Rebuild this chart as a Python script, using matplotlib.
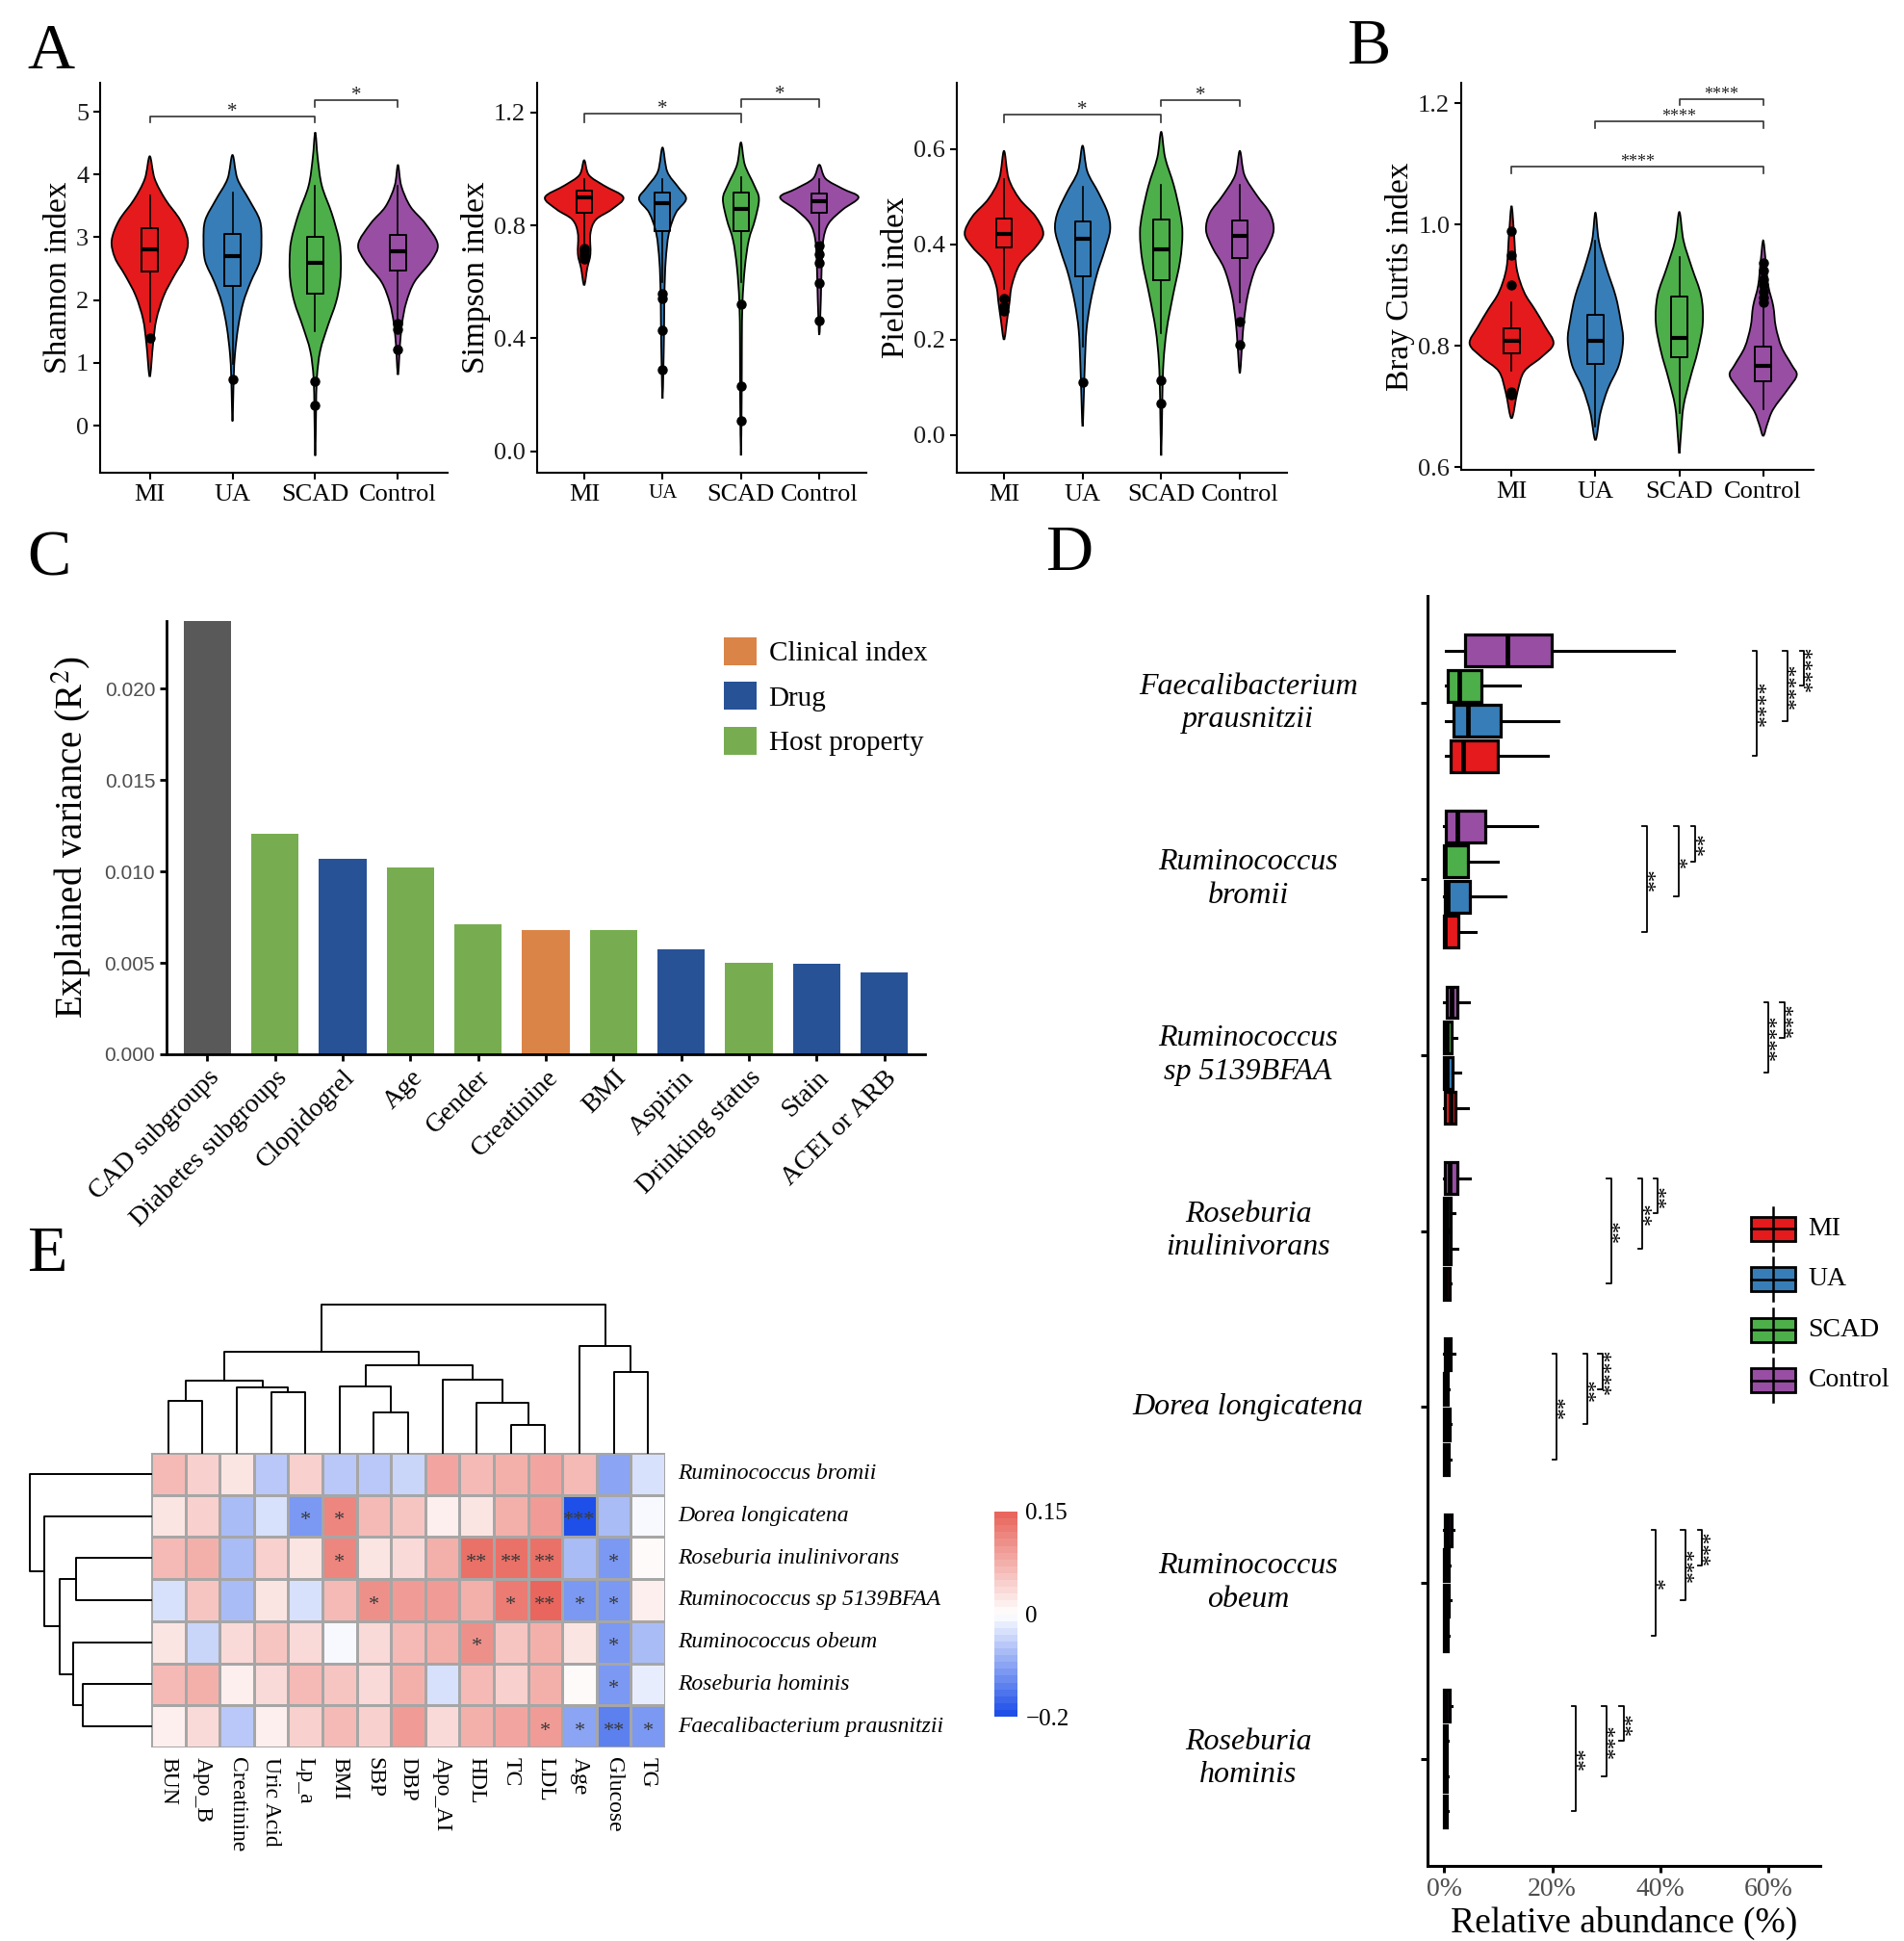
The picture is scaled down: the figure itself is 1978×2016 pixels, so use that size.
import matplotlib
matplotlib.use("Agg")
import matplotlib.pyplot as plt
import numpy as np
from matplotlib.path import Path
from matplotlib.patches import PathPatch, Rectangle, Patch
from matplotlib.colors import LinearSegmentedColormap, TwoSlopeNorm

W, H = 1978, 2016
plt.rcParams["font.family"] = ["Liberation Serif", "DejaVu Serif"]
plt.rcParams["mathtext.fontset"] = "stix"

GROUPS = ["MI", "UA", "SCAD", "Control"]
GROUP_COLORS = ["#E41A1C", "#377EB8", "#4DAF4A", "#984EA3"]

# ---- panel A / B : violin outlines (y, half-width in category units) ----
shannon_profiles = {
    "MI": ([0.78, 1.30, 1.69, 2.07, 2.40, 2.67, 2.95, 3.27, 3.60, 3.93, 4.29],
           [0, 0.04, 0.08, 0.17, 0.30, 0.42, 0.46, 0.37, 0.19, 0.06, 0]),
    "UA": ([0.07, 0.76, 1.14, 1.58, 1.96, 2.29, 2.62, 2.95, 3.27, 3.60, 3.93, 4.31],
           [0, 0.015, 0.03, 0.07, 0.13, 0.22, 0.33, 0.35, 0.33, 0.20, 0.06, 0]),
    "SCAD": ([-0.48, 0.21, 0.76, 1.19, 1.58, 1.96, 2.29, 2.62, 2.95, 3.38, 3.82, 4.26, 4.67],
             [0, 0.01, 0.02, 0.06, 0.15, 0.25, 0.30, 0.31, 0.29, 0.20, 0.08, 0.03, 0]),
    "Control": ([0.81, 1.30, 1.63, 1.96, 2.29, 2.62, 2.89, 3.22, 3.49, 3.82, 4.15],
                [0, 0.025, 0.05, 0.10, 0.20, 0.40, 0.48, 0.33, 0.15, 0.04, 0]),
}
shannon_boxes = {
    "MI": (1.66, 2.46, 2.81, 3.14, 3.67, [1.39]),
    "UA": (0.98, 2.22, 2.70, 3.06, 3.71, [0.74]),
    "SCAD": (1.50, 2.10, 2.60, 3.00, 3.82, [0.70, 0.33]),
    "Control": (1.69, 2.47, 2.77, 3.03, 3.82, [1.62, 1.53, 1.22]),
}
simpson_profiles = {
    "MI": ([0.588, 0.649, 0.698, 0.771, 0.82, 0.856, 0.899, 0.941, 0.978, 1.03],
           [0, 0.04, 0.08, 0.08, 0.15, 0.35, 0.50, 0.25, 0.06, 0]),
    "UA": ([0.187, 0.309, 0.442, 0.564, 0.673, 0.771, 0.844, 0.893, 0.935, 0.99, 1.075],
           [0, 0.012, 0.02, 0.025, 0.04, 0.08, 0.17, 0.30, 0.20, 0.06, 0]),
    "SCAD": ([-0.014, 0.2, 0.382, 0.528, 0.65, 0.747, 0.82, 0.893, 0.941, 1.014, 1.093],
             [0, 0.01, 0.012, 0.02, 0.05, 0.10, 0.18, 0.23, 0.17, 0.05, 0]),
    "Control": ([0.412, 0.54, 0.65, 0.747, 0.807, 0.856, 0.899, 0.929, 0.965, 1.014],
                [0, 0.02, 0.03, 0.05, 0.12, 0.30, 0.50, 0.30, 0.08, 0]),
}
simpson_boxes = {
    "MI": (0.73, 0.844, 0.899, 0.923, 0.965, [0.72, 0.71, 0.70, 0.69, 0.68]),
    "UA": (0.60, 0.779, 0.880, 0.917, 0.965, [0.56, 0.54, 0.43, 0.29]),
    "SCAD": (0.60, 0.780, 0.858, 0.917, 0.972, [0.52, 0.23, 0.11]),
    "Control": (0.75, 0.844, 0.886, 0.911, 0.963, [0.728, 0.698, 0.668, 0.597, 0.463]),
}
pielou_profiles = {
    "MI": ([0.2, 0.242, 0.278, 0.314, 0.358, 0.394, 0.423, 0.459, 0.495, 0.538, 0.596],
           [0, 0.04, 0.07, 0.10, 0.20, 0.40, 0.50, 0.40, 0.20, 0.06, 0]),
    "UA": ([0.018, 0.105, 0.155, 0.221, 0.278, 0.336, 0.387, 0.43, 0.466, 0.509, 0.553, 0.607],
           [0, 0.02, 0.03, 0.05, 0.10, 0.18, 0.28, 0.35, 0.32, 0.20, 0.06, 0]),
    "SCAD": ([-0.043, 0.083, 0.155, 0.221, 0.293, 0.365, 0.423, 0.466, 0.524, 0.582, 0.636],
             [0, 0.015, 0.03, 0.07, 0.15, 0.24, 0.27, 0.24, 0.16, 0.05, 0]),
    "Control": ([0.13, 0.192, 0.235, 0.293, 0.35, 0.394, 0.43, 0.466, 0.502, 0.545, 0.596],
                [0, 0.03, 0.05, 0.10, 0.20, 0.35, 0.43, 0.38, 0.22, 0.06, 0]),
}
pielou_boxes = {
    "MI": (0.307, 0.394, 0.421, 0.455, 0.538, [0.286, 0.27, 0.26]),
    "UA": (0.185, 0.334, 0.412, 0.448, 0.520, [0.11]),
    "SCAD": (0.213, 0.325, 0.389, 0.452, 0.524, [0.115, 0.067]),
    "Control": (0.278, 0.371, 0.417, 0.450, 0.524, [0.239, 0.19]),
}
bray_profiles = {
    "MI": ([0.681, 0.724, 0.758, 0.781, 0.804, 0.832, 0.86, 0.889, 0.929, 0.985, 1.031],
           [0, 0.07, 0.15, 0.35, 0.50, 0.40, 0.28, 0.15, 0.06, 0.03, 0]),
    "UA": ([0.645, 0.69, 0.73, 0.769, 0.809, 0.843, 0.883, 0.929, 0.974, 1.02],
           [0, 0.06, 0.15, 0.28, 0.33, 0.30, 0.24, 0.13, 0.04, 0]),
    "SCAD": ([0.623, 0.656, 0.701, 0.747, 0.792, 0.838, 0.883, 0.929, 0.974, 1.021],
             [0, 0.02, 0.05, 0.13, 0.22, 0.28, 0.26, 0.15, 0.05, 0]),
    "Control": ([0.652, 0.672, 0.696, 0.73, 0.752, 0.769, 0.798, 0.832, 0.866, 0.9, 0.94, 0.974],
                [0, 0.05, 0.12, 0.30, 0.40, 0.34, 0.22, 0.15, 0.12, 0.06, 0.03, 0]),
}
bray_boxes = {
    "MI": (0.759, 0.788, 0.809, 0.829, 0.872, [0.99, 0.95, 0.90, 0.725, 0.72]),
    "UA": (0.667, 0.771, 0.809, 0.851, 0.974, []),
    "SCAD": (0.690, 0.781, 0.814, 0.882, 0.946, []),
    "Control": (0.696, 0.742, 0.767, 0.799, 0.869, [0.937, 0.925, 0.91, 0.90, 0.89, 0.88, 0.872]),
}
# significance: (group a, group b, bar y, tip y, label)
shannon_sig = [(1, 3, 4.93, 4.83, "*"), (3, 4, 5.19, 5.08, "*")]
simpson_sig = [(1, 3, 1.195, 1.166, "*"), (3, 4, 1.245, 1.22, "*")]
pielou_sig = [(1, 3, 0.673, 0.657, "*"), (3, 4, 0.703, 0.69, "*")]
bray_sig = [(3, 4, 1.207, 1.198, "****"), (2, 4, 1.17, 1.159, "****"), (1, 4, 1.096, 1.085, "****")]

# ---- panel C ----
c_factors = ["CAD subgroups", "Diabetes subgroups", "Clopidogrel", "Age", "Gender",
             "Creatinine", "BMI", "Aspirin", "Drinking status", "Stain", "ACEI or ARB"]
c_r2 = [0.0245, 0.01207, 0.01067, 0.01021, 0.00711, 0.00682, 0.0068, 0.00576, 0.00501, 0.00493, 0.00447]
c_types = ["CAD", "Host property", "Drug", "Host property", "Host property", "Clinical index",
           "Host property", "Drug", "Host property", "Drug", "Drug"]
c_colors = {"CAD": "#595959", "Clinical index": "#DA8447", "Drug": "#275296", "Host property": "#77AD50"}

# ---- panel D : (whislo, q1, median, q3, whishi) in % ----
d_species = ["Faecalibacterium\nprausnitzii", "Ruminococcus\nbromii", "Ruminococcus\nsp 5139BFAA",
             "Roseburia\ninulinivorans", "Dorea longicatena", "Ruminococcus\nobeum", "Roseburia\nhominis"]
d_mi = [(0.2, 1.12, 3.47, 9.9, 19.1), (0, 0, 0.1, 2.55, 5.8), (0, 0.1, 1.2, 2.15, 4.3),
        (0, 0, 0.3, 1.0, 1.2), (0, 0, 0.3, 0.8, 1.2), (0, 0, 0.2, 0.7, 0.9), (0, 0, 0.1, 0.5, 0.6)]
d_ua = [(0.2, 1.63, 4.39, 10.5, 21.15), (0, 0.05, 0.7, 4.7, 11.4), (0, 0, 0.5, 1.5, 3.0),
        (0, 0, 0.4, 1.2, 2.45), (0, 0, 0.4, 1.0, 1.2), (0, 0, 0.3, 0.9, 1.1), (0, 0, 0.1, 0.5, 0.6)]
d_scad = [(0.2, 0.72, 2.76, 6.84, 14.0), (0, 0, 0.1, 4.4, 9.9), (0, 0, 0.4, 1.3, 2.25),
          (0, 0, 0.4, 1.23, 1.9), (0, 0, 0.2, 0.7, 0.9), (0, 0, 0.2, 0.8, 1.0), (0, 0, 0.1, 0.5, 0.6)]
d_control = [(0.2, 3.78, 11.65, 19.8, 42.6), (0, 0.2, 2.45, 7.56, 17.3), (0, 0.4, 1.4, 2.45, 4.6),
             (0, 0.1, 1.0, 2.35, 4.8), (0, 0.1, 0.6, 1.2, 1.9), (0, 0.1, 0.6, 1.3, 1.7), (0, 0, 0.3, 1.0, 1.4)]
# brackets vs Control: (group, x %, label)
d_sig = [
    [("MI", 57.9, "****"), ("UA", 63.5, "****"), ("SCAD", 66.6, "****")],
    [("MI", 37.5, "**"), ("UA", 43.4, "*"), ("SCAD", 46.5, "**")],
    [("UA", 60.0, "****"), ("SCAD", 63.0, "***")],
    [("MI", 30.9, "**"), ("UA", 36.7, "**"), ("SCAD", 39.5, "**")],
    [("MI", 20.8, "**"), ("UA", 26.5, "**"), ("SCAD", 29.3, "****")],
    [("MI", 39.2, "*"), ("UA", 44.6, "***"), ("SCAD", 47.7, "***")],
    [("MI", 24.4, "**"), ("UA", 30.0, "***"), ("SCAD", 33.2, "**")],
]

# ---- panel E ----
heat_cols = ["BUN", "Apo_B", "Creatinine", "Uric Acid", "Lp_a", "BMI", "SBP", "DBP",
             "Apo_AI", "HDL", "TC", "LDL", "Age", "Glucose", "TG"]
heat_rows = ["Ruminococcus bromii", "Dorea longicatena", "Roseburia inulinivorans",
             "Ruminococcus sp 5139BFAA", "Ruminococcus obeum", "Roseburia hominis",
             "Faecalibacterium prausnitzii"]
heat_r = [
    [0.06, 0.04, 0.02, -0.06, 0.04, -0.06, -0.06, -0.05, 0.08, 0.06, 0.07, 0.08, 0.06, -0.10, -0.04],
    [0.02, 0.04, -0.07, -0.03, -0.12, 0.11, 0.06, 0.05, 0.01, 0.02, 0.07, 0.09, -0.20, -0.08, -0.005],
    [0.06, 0.07, -0.07, 0.04, 0.02, 0.11, 0.02, 0.03, 0.07, 0.13, 0.13, 0.13, -0.08, -0.12, 0.0],
    [-0.04, 0.05, -0.08, 0.02, -0.03, 0.06, 0.10, 0.09, 0.09, 0.07, 0.12, 0.14, -0.11, -0.11, 0.01],
    [0.02, -0.05, 0.03, 0.05, 0.03, -0.005, 0.03, 0.06, 0.07, 0.10, 0.05, 0.07, 0.02, -0.12, -0.07],
    [0.06, 0.07, 0.01, 0.03, 0.06, 0.05, 0.03, 0.07, -0.04, 0.06, 0.04, 0.07, 0.0, -0.12, -0.02],
    [0.01, 0.03, -0.06, 0.01, 0.04, 0.06, 0.04, 0.09, 0.03, 0.07, 0.08, 0.09, -0.10, -0.14, -0.11],
]
heat_sig = [
    [""] * 15,
    ["", "", "", "", "*", "*", "", "", "", "", "", "", "***", "", ""],
    ["", "", "", "", "", "*", "", "", "", "**", "**", "**", "", "*", ""],
    ["", "", "", "", "", "", "*", "", "", "", "*", "**", "*", "*", ""],
    ["", "", "", "", "", "", "", "", "", "*", "", "", "", "*", ""],
    ["", "", "", "", "", "", "", "", "", "", "", "", "", "*", ""],
    ["", "", "", "", "", "", "", "", "", "", "", "*", "*", "**", "*"],
]
# dendrogram merges (child a, child b, height); new clusters numbered after leaves
col_merges = [(0, 1, 162), (3, 4, 187), (2, 16, 202), (15, 17, 225), (6, 7, 124), (5, 19, 205),
              (10, 11, 87), (9, 21, 154), (8, 22, 227), (20, 23, 270), (18, 24, 313),
              (13, 14, 249), (12, 26, 330), (25, 27, 459)]
row_merges = [(5, 6, 103), (4, 7, 118), (2, 3, 113), (9, 8, 138), (1, 10, 161), (0, 11, 183)]

fig = plt.figure(figsize=(W / 100, H / 100), dpi=100)


def px_axes(left, top, right, bottom):
    return fig.add_axes([left / W, 1 - bottom / H, (right - left) / W, (bottom - top) / H])


def smooth_outline(xs, ys):
    pts = np.column_stack([xs, ys])
    n = len(pts)
    verts = [pts[0]]
    codes = [Path.MOVETO]
    for i in range(n):
        p0, p1, p2, p3 = pts[i - 1], pts[i], pts[(i + 1) % n], pts[(i + 2) % n]
        verts += [p1 + (p2 - p0) / 6, p2 - (p3 - p1) / 6, p2]
        codes += [Path.CURVE4] * 3
    return Path(verts, codes)


def style_axes(ax, lw=1.5):
    for s in ("top", "right"):
        ax.spines[s].set_visible(False)
    for s in ("left", "bottom"):
        ax.spines[s].set_linewidth(lw)
    ax.tick_params(width=lw, length=5, color="black")


def violin_panel(ax, profiles, boxes, ylim, yticks, ytick_labels, ylabel, sig):
    for i, g in enumerate(GROUPS):
        ys, ws = profiles[g]
        c = i + 1
        xs_out = [c] + [c + w for w in ws[1:-1]] + [c] + [c - w for w in ws[-2:0:-1]]
        ys_out = [ys[0]] + ys[1:-1] + [ys[-1]] + ys[-2:0:-1]
        ax.add_patch(PathPatch(smooth_outline(xs_out, ys_out), facecolor=GROUP_COLORS[i],
                               edgecolor="black", lw=1.3, zorder=1))
    stats = [dict(whislo=boxes[g][0], q1=boxes[g][1], med=boxes[g][2], q3=boxes[g][3],
                  whishi=boxes[g][4], fliers=boxes[g][5]) for g in GROUPS]
    ax.bxp(stats, positions=[1, 2, 3, 4], widths=0.2, showcaps=False, manage_ticks=False,
           boxprops=dict(color="black", lw=1.4), whiskerprops=dict(color="black", lw=1.2),
           medianprops=dict(color="black", lw=3.0),
           flierprops=dict(marker="o", markerfacecolor="black", markeredgecolor="black", markersize=6.5),
           zorder=3)
    for a, b, bar, tip, lab in sig:
        ax.plot([a, a, b, b], [tip, bar, bar, tip], color="#333333", lw=1.2, clip_on=False)
        ax.text((a + b) / 2, bar, lab, ha="center", va="baseline", fontsize=15, color="#222222")
    ax.set_xlim(0.4, 4.6)
    ax.set_ylim(*ylim)
    ax.set_xticks([1, 2, 3, 4])
    ax.set_xticklabels(GROUPS, fontsize=19)
    ax.set_yticks(yticks)
    ax.set_yticklabels(ytick_labels, fontsize=19, color="#1A1A1A")
    ax.set_ylabel(ylabel, fontsize=24, labelpad=2)
    style_axes(ax)


# ---- A ----
ax_a1 = px_axes(104, 86, 465, 491)
violin_panel(ax_a1, shannon_profiles, shannon_boxes, (-0.75, 5.46), [0, 1, 2, 3, 4, 5],
             ["0", "1", "2", "3", "4", "5"], "Shannon index", shannon_sig)
ax_a2 = px_axes(558, 86, 900, 491)
violin_panel(ax_a2, simpson_profiles, simpson_boxes, (-0.075, 1.304), [0, 0.4, 0.8, 1.2],
             ["0.0", "0.4", "0.8", "1.2"], "Simpson index", simpson_sig)
ax_a2.get_xticklabels()[1].set_fontsize(15)
ax_a3 = px_axes(994, 86, 1337, 491)
violin_panel(ax_a3, pielou_profiles, pielou_boxes, (-0.079, 0.739), [0, 0.2, 0.4, 0.6],
             ["0.0", "0.2", "0.4", "0.6"], "Pielou index", pielou_sig)
# ---- B ----
ax_b = px_axes(1518, 86, 1884, 488)
violin_panel(ax_b, bray_profiles, bray_boxes, (0.596, 1.234), [0.6, 0.8, 1.0, 1.2],
             ["0.6", "0.8", "1.0", "1.2"], "Bray Curtis index", bray_sig)
for t in ax_b.texts:
    t.set_fontsize(13)

# ---- C ----
ax_c = px_axes(173, 645, 961, 1095)
xc = np.arange(len(c_factors))
ax_c.bar(xc, c_r2, width=0.7, color=[c_colors[t] for t in c_types])
ax_c.set_xlim(-0.6, len(c_factors) - 0.4)
ax_c.set_ylim(0, 0.0237)
ax_c.set_yticks([0, 0.005, 0.010, 0.015, 0.020])
ax_c.set_yticklabels(["0.000", "0.005", "0.010", "0.015", "0.020"],
                     family=["Liberation Sans Narrow", "Liberation Sans"], fontsize=15, color="#4D4D4D")
ax_c.set_xticks(xc)
ax_c.set_xticklabels(c_factors, rotation=45, ha="right", rotation_mode="anchor", fontsize=20)
ax_c.set_ylabel("Explained variance (R$^{2}$)", fontsize=28, labelpad=8)
style_axes(ax_c, lw=2)
c_handles = [Patch(facecolor=c_colors[k]) for k in ["Clinical index", "Drug", "Host property"]]
ax_c.legend(c_handles, ["Clinical index", "Drug", "Host property"], loc="upper left",
            bbox_to_anchor=(752 / W, 1 - 662 / H), bbox_transform=fig.transFigure, frameon=False,
            fontsize=21, handlelength=1.15, handleheight=1.15, handletextpad=0.45,
            labelspacing=0.55, borderpad=0, borderaxespad=0)

# ---- D ----
ax_d = px_axes(1483, 619, 1891, 1938)
d_offsets = {"MI": 0.3, "UA": 0.1, "SCAD": -0.1, "Control": -0.3}
d_data = {"MI": d_mi, "UA": d_ua, "SCAD": d_scad, "Control": d_control}
for gi, g in enumerate(GROUPS):
    stats = [dict(whislo=s[0], q1=s[1], med=s[2], q3=s[3], whishi=s[4], fliers=[]) for s in d_data[g]]
    pos = [i + d_offsets[g] for i in range(len(d_species))]
    kw = dict(positions=pos, widths=0.18, showcaps=False, patch_artist=True, manage_ticks=False,
              boxprops=dict(facecolor=GROUP_COLORS[gi], edgecolor="black", lw=2.3),
              whiskerprops=dict(color="black", lw=2.2), medianprops=dict(color="black", lw=3.4))
    try:
        ax_d.bxp(stats, orientation="horizontal", **kw)
    except TypeError:
        ax_d.bxp(stats, vert=False, **kw)
for i, brackets in enumerate(d_sig):
    y0 = i + d_offsets["Control"]
    for g, x, lab in brackets:
        y1 = i + d_offsets[g]
        ax_d.plot([x - 0.8, x, x, x - 0.8], [y0, y0, y1, y1], color="black", lw=1.3)
        ax_d.text(x + 1.7, (y0 + y1) / 2, lab, rotation=90, ha="center", va="center", fontsize=17)
ax_d.set_xlim(-3.1, 69.6)
ax_d.set_ylim(len(d_species) - 0.39, -0.61)
ax_d.set_xticks([0, 20, 40, 60])
ax_d.set_xticklabels(["0%", "20%", "40%", "60%"], fontsize=20, color="#4D4D4D")
ax_d.set_yticks(range(len(d_species)))
for i, name in enumerate(d_species):
    ax_d.text(-0.457, i, name, transform=ax_d.get_yaxis_transform(), ha="center", va="center",
              style="italic", fontsize=23, linespacing=1.25)
ax_d.set_xlabel("Relative abundance (%)", fontsize=27, labelpad=4)
style_axes(ax_d, lw=2.2)
ax_d.tick_params(axis="y", labelleft=False)

# D legend keys
ax_dl = px_axes(1812, 1250, 1978, 1460)
ax_dl.set_xlim(0, 1)
ax_dl.set_ylim(len(GROUPS), 0)
ax_dl.axis("off")
for gi, g in enumerate(GROUPS):
    yc = gi + 0.5
    ax_dl.plot([0.179, 0.179], [yc - 0.43, yc + 0.43], color="black", lw=1.8)
    ax_dl.add_patch(Rectangle((0.041, yc - 0.24), 0.276, 0.48, facecolor=GROUP_COLORS[gi],
                              edgecolor="black", lw=2.0))
    ax_dl.plot([0.041, 0.317], [yc, yc], color="black", lw=1.8)
    ax_dl.text(0.40, yc, g, va="center", ha="left", fontsize=20)

# ---- E ----
cmap = LinearSegmentedColormap.from_list("bwr_heat", ["#1E4FE8", "#FFFFFF", "#E8665D"], N=30)
norm = TwoSlopeNorm(vmin=-0.2, vcenter=0, vmax=0.15)
ax_e = px_axes(157, 1509, 691, 1815)
mesh = ax_e.pcolormesh(np.array(heat_r), cmap=cmap, norm=norm, edgecolors="#A6A6A6", linewidth=1.0)
ax_e.set_xlim(0, len(heat_cols))
ax_e.set_ylim(len(heat_rows), 0)
ax_e.axis("off")
for i in range(len(heat_rows)):
    for j in range(len(heat_cols)):
        if heat_sig[i][j]:
            ax_e.text(j + 0.5, i + 0.62, heat_sig[i][j], ha="center", va="center", fontsize=16,
                      color="#3A3A3A")
for i, name in enumerate(heat_rows):
    ax_e.text(len(heat_cols) + 0.37, i + 0.5, name, ha="left", va="center", style="italic", fontsize=17)
for j, name in enumerate(heat_cols):
    ax_e.text(j + 0.5, len(heat_rows) + 0.22, name, ha="center", va="top", rotation=-90, fontsize=17)


def draw_dendrogram(ax, merges, n_leaves, side):
    pos = {k: k + 0.5 for k in range(n_leaves)}
    hgt = {k: 0.0 for k in range(n_leaves)}
    for idx, (a, b, h) in enumerate(merges):
        xs = [pos[a], pos[a], pos[b], pos[b]]
        ys = [hgt[a], h, h, hgt[b]]
        if side == "top":
            ax.plot(xs, ys, color="black", lw=1.4, clip_on=False)
        else:
            ax.plot(ys, xs, color="black", lw=1.4, clip_on=False)
        pos[n_leaves + idx] = (pos[a] + pos[b]) / 2
        hgt[n_leaves + idx] = h
    ax.axis("off")


ax_ct = px_axes(157, 1355, 691, 1509)
draw_dendrogram(ax_ct, col_merges, len(heat_cols), "top")
ax_ct.set_xlim(0, len(heat_cols))
ax_ct.set_ylim(0, col_merges[-1][2])
ax_rt = px_axes(31, 1509, 157, 1815)
draw_dendrogram(ax_rt, row_merges, len(heat_rows), "left")
ax_rt.set_ylim(len(heat_rows), 0)
ax_rt.set_xlim(row_merges[-1][2], 0)

cax = px_axes(1033, 1570, 1057, 1783)
cb = fig.colorbar(mesh, cax=cax, ticks=[-0.2, 0, 0.15])
cb.ax.set_yticklabels(["\u22120.2", "0", "0.15"], fontsize=18)
cb.outline.set_visible(False)
cb.ax.tick_params(length=0, pad=6)

# panel letters
for letter, x, y in [("A", 28, 71), ("B", 1399, 66), ("C", 28, 597), ("D", 1086, 592), ("E", 28, 1320)]:
    fig.text(x / W, 1 - y / H, letter, fontsize=49, va="baseline", ha="left")

fig.savefig("out.png", dpi=100)
